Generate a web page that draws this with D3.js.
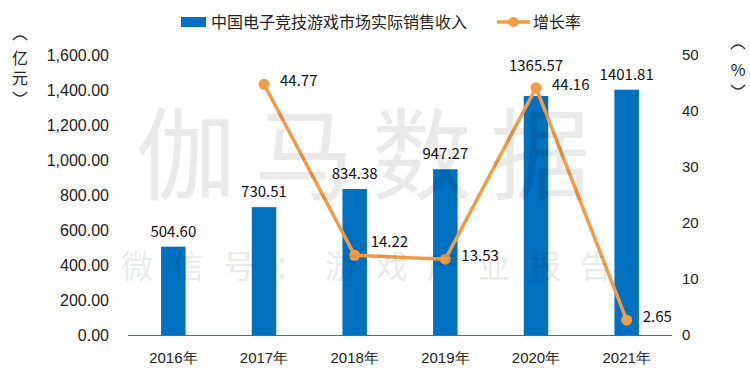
<!DOCTYPE html>
<html lang="zh">
<head>
<meta charset="UTF-8">
<title>中国电子竞技游戏市场实际销售收入</title>
<style>
  body { margin: 0; background: #fff; }
  svg { display: block; font-family: "Noto Sans CJK SC", "Noto Sans", sans-serif; }
  .tick text { fill: #222; }
  .lbl { font-size: 15px; fill: #111; }
</style>
</head>
<body>
<svg id="chart" width="750" height="384"></svg>
<script src="https://d3js.org/d3.v7.min.js"></script>
<script>
// data
const years = ["2016年", "2017年", "2018年", "2019年", "2020年", "2021年"];
const revenue = [504.60, 730.51, 834.38, 947.27, 1365.57, 1401.81];
const growth = [null, 44.77, 14.22, 13.53, 44.16, 2.65];
const leftTicks = [0, 200, 400, 600, 800, 1000, 1200, 1400, 1600];
const rightTicks = [0, 10, 20, 30, 40, 50];

const barName = "中国电子竞技游戏市场实际销售收入";
const lineName = "增长率";
const blue = "#0070C0", orange = "#F49B45";

const svg = d3.select("#chart");
const margin = { top: 55, right: 78, bottom: 49, left: 128 };
const W = 750, H = 384;

const x = d3.scaleBand().domain(years).range([margin.left, W - margin.right]).paddingInner(0.73).paddingOuter(0.365);
const yL = d3.scaleLinear().domain([0, 1600]).range([H - margin.bottom, margin.top]);
const yR = d3.scaleLinear().domain([0, 50]).range([H - margin.bottom, margin.top]);

// axes
const axL = svg.append("g").attr("transform", "translate(109,0)")
  .call(d3.axisLeft(yL).tickValues(leftTicks).tickSize(0).tickPadding(0).tickFormat(d3.format(",.2f")));
axL.selectAll("text").style("font-size", "16px");
const axR = svg.append("g").attr("transform", `translate(${W - margin.right + 10},0)`)
  .call(d3.axisRight(yR).tickValues(rightTicks).tickSize(0).tickPadding(0));
axR.selectAll("text").style("font-size", "15px");
[axL, axR].forEach(a => a.select(".domain").remove());

const axB = svg.append("g").attr("transform", `translate(0,${H - margin.bottom})`)
  .call(d3.axisBottom(x).tickSize(0).tickPadding(17));
axB.select(".domain").attr("stroke", "#2E75B6").attr("d", `M${margin.left},0.5H${W - margin.right}`);
axB.selectAll("text").style("font-size", "15px");

// bars
svg.append("g").selectAll("rect").data(years).join("rect")
  .attr("x", d => x(d)).attr("width", x.bandwidth())
  .attr("y", (d, i) => yL(revenue[i])).attr("height", (d, i) => yL(0) - yL(revenue[i]))
  .attr("fill", blue);

// line
const pts = years.map((d, i) => ({ year: d, v: growth[i] })).filter(p => p.v !== null);
const cx = d => x(d) + x.bandwidth() / 2;
const lineY = xp => {
  for (let k = 0; k < pts.length - 1; k++) {
    const x0 = cx(pts[k].year), x1 = cx(pts[k + 1].year);
    if (xp >= x0 && xp <= x1) return yR(pts[k].v + (pts[k + 1].v - pts[k].v) * (xp - x0) / (x1 - x0));
  }
  return null;
};
svg.append("path").datum(pts)
  .attr("fill", "none").attr("stroke", orange).attr("stroke-width", 3.5).attr("stroke-linejoin", "round")
  .attr("d", d3.line().x(p => cx(p.year)).y(p => yR(p.v)));
svg.append("g").selectAll("circle").data(pts).join("circle")
  .attr("cx", p => cx(p.year)).attr("cy", p => yR(p.v)).attr("r", 5.5).attr("fill", orange);

// bar labels (pushed up when a line point sits on top of the bar)
svg.append("g").selectAll("text").data(years).join("text")
  .attr("class", "lbl").attr("text-anchor", "middle")
  .attr("x", d => cx(d))
  .attr("y", (d, i) => {
    let y = yL(revenue[i]) - 10;
    if (growth[i] !== null && Math.abs(yR(growth[i]) - y) < 18) y = yR(growth[i]) - 17;
    return y;
  })
  .text((d, i) => revenue[i].toFixed(2));

// line labels, to the right of the point, lifted off the line where it runs flat
svg.append("g").selectAll("text").data(pts).join("text")
  .attr("class", "lbl")
  .attr("x", p => cx(p.year) + 16)
  .attr("y", p => {
    let c = yR(p.v) - 3;
    const ly = lineY(cx(p.year) + 36);
    if (ly !== null && Math.abs(ly - c) < 10) c = ly - 15;
    return c + 5;
  })
  .text(p => p.v.toFixed(2));

// legend
const lg = svg.append("g").attr("transform", "translate(0,22)");
lg.append("rect").attr("x", 181).attr("y", -5).attr("width", 25).attr("height", 10).attr("fill", blue);
lg.append("text").attr("x", 211).attr("y", 6).style("font-size", "16px").attr("fill", "#222").text(barName);
lg.append("line").attr("x1", 497).attr("x2", 530).attr("stroke", orange).attr("stroke-width", 3.5);
lg.append("circle").attr("cx", 513.5).attr("r", 5).attr("fill", orange);
lg.append("text").attr("x", 533).attr("y", 6).style("font-size", "16px").attr("fill", "#222").text(lineName);

// vertical axis titles, with the bracket arcs drawn as small curves
const arc = (xp, yp, up) => svg.append("path")
  .attr("d", up ? `M${xp - 7},${yp + 3}Q${xp},${yp - 5} ${xp + 7},${yp + 3}` : `M${xp - 7},${yp - 3}Q${xp},${yp + 5} ${xp + 7},${yp - 3}`)
  .attr("fill", "none").attr("stroke", "#333").attr("stroke-width", 1.3);
const vt = (xp, ys, chars) => chars.forEach((c, i) => svg.append("text")
  .attr("x", xp).attr("y", ys[i]).attr("text-anchor", "middle").attr("dominant-baseline", "central")
  .style("font-size", "16px").attr("fill", "#222").text(c));
arc(20, 37, true); vt(20, [57, 77], ["亿", "元"]); arc(20, 95, false);
arc(738, 46, true); vt(738, [69], ["%"]); arc(738, 88, false);

// watermark
svg.append("text").attr("x", 372).attr("y", 192).attr("text-anchor", "middle")
  .style("font-size", "100px").style("letter-spacing", "18px").attr("fill", "#000").attr("opacity", 0.08)
  .text("伽马数据");
svg.append("text").attr("x", 376).attr("y", 278).attr("text-anchor", "middle")
  .style("font-size", "32px").style("letter-spacing", "19px").attr("fill", "#000").attr("opacity", 0.08)
  .text("微信号：游戏产业报告");
</script>
</body>
</html>
